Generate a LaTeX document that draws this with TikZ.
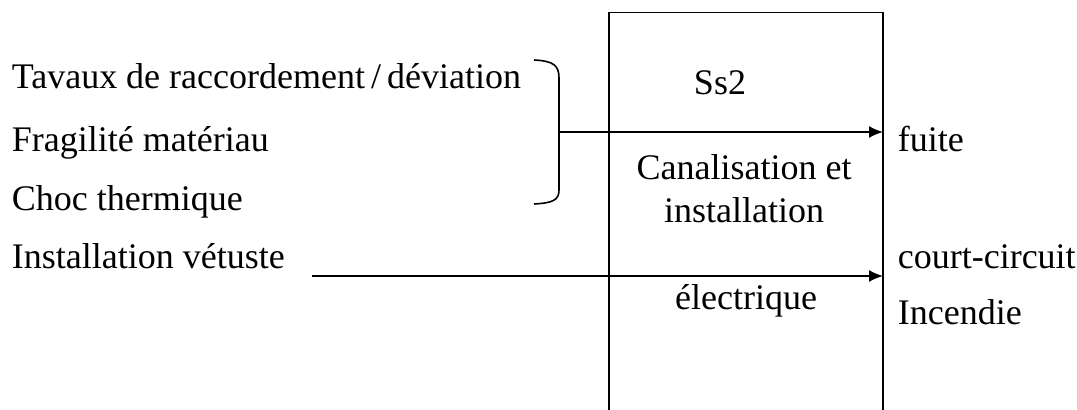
\documentclass[tikz,border=0pt]{standalone}
\usepackage{fontspec}
\setmainfont{Liberation Serif}
\usepackage{tikz}
\usetikzlibrary{arrows.meta}
\tikzset{
	lbl/.style={inner sep=0pt, font=\fontsize{18}{21.5}\selectfont},
	cause/.style={lbl, anchor=base west},
	intitle/.style={lbl, anchor=base},
	flow/.style={line width=0.8pt, -{Latex[length=7pt,width=6pt]}}
}

\begin{document}
\begin{tikzpicture}[x=0.5pt,y=-0.5pt, line width=0.8pt]
		\useasboundingbox (0,0) rectangle (1077,410);
		% sub-system box, open at the bottom
		\coordinate (boxTL) at (609,12.7);
		\coordinate (boxTR) at (883,12.7);
		\draw (609,410) -- (boxTL) -- (boxTR) -- (883,410);
		\node[intitle] (ss) at (720,95) {Ss2};
		\node[intitle] (canal) at (744,180) {Canalisation et};
		\node[intitle] (inst) at (744,223) {installation};
		\node[intitle] (elec) at (746,310) {électrique};
		% causes on the left
		\node[cause] (trav) at (11,89) {Tavaux de raccordement\,/\,déviation};
		\node[cause] (frag) at (11,152) {Fragilité matériau};
		\node[cause] (choc) at (11,211) {Choc thermique};
		\node[cause] (vetu) at (11,269) {Installation vétuste};
		% effects on the right
		\node[cause] (fuite) at (897,152) {fuite};
		\node[cause] (cc) at (897,269) {court-circuit};
		\node[cause] (inc) at (897,325) {Incendie};
		% brace grouping the first three causes
		\coordinate (brTop) at (534,60);
		\coordinate (brMid) at (559,132);
		\coordinate (brBot) at (534,204);
		\draw (brTop) .. controls (553,61) and (559,65) .. (559,78) -- (559,190) .. controls (559,200) and (553,203) .. (brBot);
		\coordinate (inFuite) at (883,132);
		\coordinate (startCC) at (312,276);
		\coordinate (inCC) at (883,276);
		\draw[flow] (brMid) -- (inFuite);
		\draw[flow] (startCC) -- (inCC);
	\end{tikzpicture}
\end{document}
